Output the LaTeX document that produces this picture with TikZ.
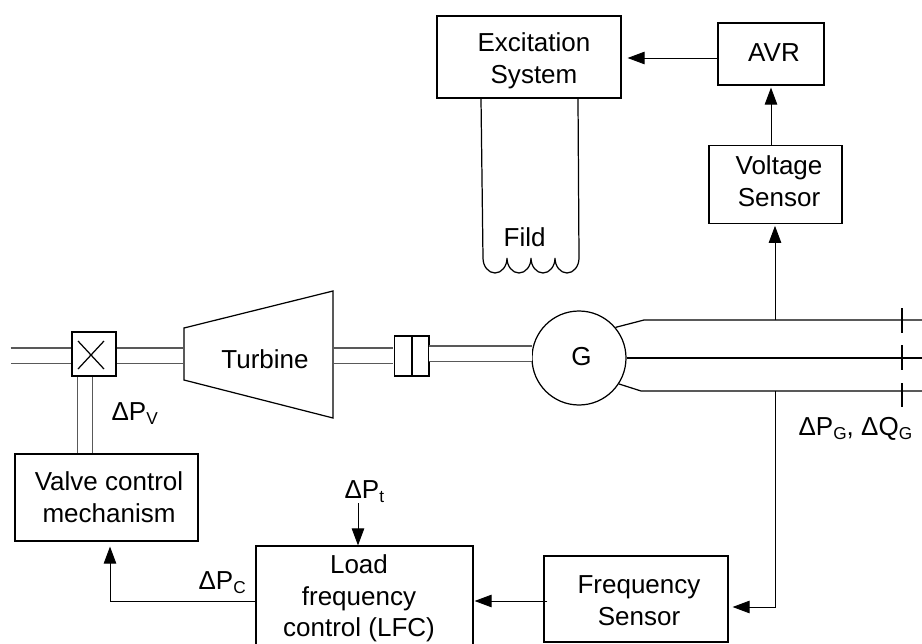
\documentclass[tikz,border=0pt]{standalone}
\usepackage{fontspec}
\setmainfont{Liberation Sans}
\usetikzlibrary{positioning, arrows.meta}
\newcommand{\deltaval}[2]{Δ#1\raisebox{-0.35ex}{\fontsize{9.8}{10}\selectfont #2}}
\newcommand{\boxtext}[3]{\raisebox{#2}[0pt][0pt]{\hspace*{#1}\begin{tabular}{@{}c@{}}#3\end{tabular}}}

\begin{document}
\begin{tikzpicture}[
        line width=0.7pt,
        every node/.style={font=\fontsize{14.8}{18.14}\selectfont},
        box/.style={rectangle, draw, text centered, inner sep=0pt},
        label/.style={anchor=base west, inner sep=0pt},
        arrow/.style={line width=0.5pt, -{Triangle[length=3.4mm, width=2.5mm]}},
        shaft/.style={draw=black!65, line width=0.6pt, double=white, double distance=0.28cm, shorten <=0.4pt, shorten >=0.4pt},
        node distance=1.18cm and 1cm
    ]
    \useasboundingbox (0,0) rectangle (18.44,12.86);

    % Excitation branch
    \node[box, minimum width=3.68cm, minimum height=1.64cm] (excit) at (10.58,11.72) {\boxtext{0.2cm}{-5.74pt}{Excitation\\System}};
    \node[box, minimum width=2.12cm, minimum height=1.24cm] (avr) at (15.42,11.78) {\boxtext{0.12cm}{-4.04pt}{AVR}};
    \node[box, below=1.18cm of avr, xshift=0.09cm, minimum width=2.66cm, minimum height=1.56cm] (volt) {\boxtext{0.14cm}{-3.45pt}{Voltage\\Sensor}};

    % Steam path
    \coordinate (steam) at (0.20,5.75);
    \node[box, minimum size=0.88cm] (valve) at (1.88,5.78) {};
    \coordinate (turbl) at (3.68,5.75);
    \coordinate (turbr) at (6.66,5.75);
    \node[anchor=base, inner sep=0pt] (turbine) at (5.30,5.50) {Turbine};
    \node[box, minimum width=0.33cm, minimum height=0.8cm] (cpla) at (8.06,5.74) {};
    \node[box, right=0pt of cpla, minimum width=0.33cm, minimum height=0.8cm] (cplb) {};
    \coordinate (shaftb) at (8.56,5.79);
    \coordinate (shaftg) at (10.66,5.79);

    % Generator
    \node[circle, draw, minimum size=1.88cm, inner sep=0pt] (gen) at (11.58,5.70) {\boxtext{0.10cm}{-4.05pt}{G}};
    \coordinate (bustop) at (12.88,6.46);
    \coordinate (busbot) at (12.82,5.04);
    \coordinate (tapv) at (15.50,6.46);
    \coordinate (tapf) at (15.50,5.04);

    % Control blocks
    \node[box, minimum width=3.66cm, minimum height=1.74cm] (vcm) at (2.13,2.91) {\boxtext{0.10cm}{-4.87pt}{Valve control\\mechanism}};
    \node[box, minimum width=4.34cm, minimum height=2.20cm] (lfc) at (7.29,0.84) {\boxtext{-0.22cm}{-2.25pt}{Load\\frequency\\control (LFC)}};
    \node[box, minimum width=3.68cm, minimum height=1.72cm] (freq) at (12.72,0.88) {\boxtext{0.12cm}{-5.73pt}{Frequency\\Sensor}};
    \coordinate (dptin) at (7.16,2.80);

    % Labels
    \node[label] (dpv) at (2.22,4.46) {\deltaval{P}{V}};
    \node[label] (dpc) at (3.96,1.08) {\deltaval{P}{C}};
    \node[label] (dpt) at (6.88,2.90) {\deltaval{P}{t}};
    \node[label] (dpg) at (15.96,4.16) {\deltaval{P}{G}, \deltaval{Q}{G}};
    \node[label] (fild) at (10.06,7.94) {Fild};

    % Turbine outline
    \draw (3.68,6.30) -- (6.66,7.04) -- (6.66,4.50) -- (3.68,5.26) -- cycle;

    % Valve cross
    \draw ([shift={(-0.32,0.26)}]valve.center) -- ([shift={(0.20,-0.30)}]valve.center);
    \draw ([shift={(0.20,0.26)}]valve.center) -- ([shift={(-0.32,-0.30)}]valve.center);

    % Double lines
    \draw[shaft] (steam) -- (steam -| valve.west);
    \draw[shaft] (steam -| valve.east) -- (turbl);
    \draw[shaft] (turbr) -- (turbr -| cpla.west);
    \draw[shaft] (shaftb) -- (shaftg);
    \draw[shaft] ([xshift=-0.18cm]valve.south) -- ([xshift=-0.18cm]valve.south |- vcm.north);

    % Field winding
    \draw ([xshift=-0.96cm]excit.south) -- (9.66,7.70)
        arc[start angle=180, end angle=360, x radius=0.24, y radius=0.30]
        arc[start angle=180, end angle=360, x radius=0.24, y radius=0.30]
        arc[start angle=180, end angle=360, x radius=0.24, y radius=0.30]
        arc[start angle=180, end angle=360, x radius=0.24, y radius=0.30]
        -- ([xshift=0.98cm]excit.south);

    % Generator bus
    \draw (gen.40) -- (bustop) -- (bustop -| 18.44,0);
    \draw (gen.east) -- (gen.east -| 18.44,0);
    \draw (gen.-33) -- (busbot) -- (busbot -| 18.44,0);
    \foreach \ya/\yb in {6.70/6.20, 5.96/5.46, 5.20/4.72}
        \draw (18.04,\ya) -- (18.04,\yb);

    % Signal arrows
    \draw[arrow] ([yshift=-0.08cm]avr.west) -- ([xshift=0.12cm,yshift=-0.08cm]avr.west -| excit.east);
    \draw[arrow] (volt.north -| avr) -- ([yshift=-0.04cm]avr.south);
    \draw[arrow] (tapv) -- ([yshift=-0.04cm]tapv |- volt.south);
    \draw[arrow] (tapf) |- ([xshift=0.08cm]freq.east |- 0,0.72);
    \draw[arrow] ([xshift=0.08cm]freq.west |- lfc.east) -- ([xshift=0.02cm]lfc.east);
    \draw[arrow] (lfc.west) -| ([xshift=0.07cm,yshift=-0.10cm]vcm.south);
    \draw[arrow] (dptin) -- (dptin |- lfc.north);

\end{tikzpicture}
\end{document}
